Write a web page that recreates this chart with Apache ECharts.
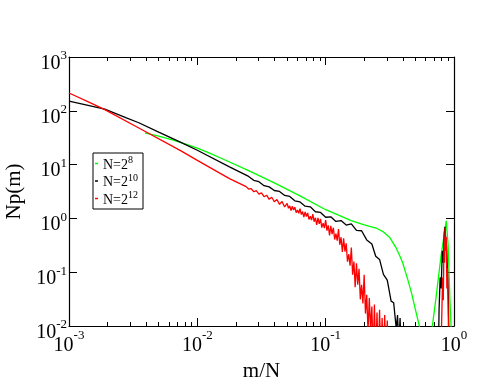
<!DOCTYPE html>
<html>
<head>
<meta charset="utf-8">
<script src="https://cdn.jsdelivr.net/npm/echarts@6/dist/echarts.min.js"></script>
<style>
  html, body { margin: 0; padding: 0; background: #fff; }
  #chart { width: 498px; height: 385px; }
</style>
</head>
<body>
<div id="chart"></div>
<script>
// axis ranges (decade exponents) and minor tick multipliers
const xTickExp = [-3, -2, -1, 0];
const yTickExp = [-2, -1, 0, 1, 2, 3];
const minorMultipliers = [2, 3, 4, 5, 6, 7, 8, 9];

const seriesNames = ['N=2^8', 'N=2^10', 'N=2^12'];

// N=2^8 (green)
const n8X = [0.0039, 0.005, 0.0063, 0.0079, 0.01, 0.0126, 0.0158, 0.0251, 0.0398, 0.0631, 0.1, 0.126, 0.158, 0.2, 0.251,
  0.282, 0.316, 0.355, 0.38, 0.398, 0.437, 0.468, 0.501, 0.537, 0.6, 0.67, 0.72, 0.79, 0.87, 0.9, 0.93, 0.96, 1.0];
const n8Y = [39, 33.9, 29.2, 24.5, 20.2, 16.2, 12.7, 7.7, 4.57, 2.63, 1.45, 1.15, 0.91, 0.76, 0.65,
  0.56, 0.44, 0.28, 0.195, 0.15, 0.072, 0.04, 0.02, 0.01, 0.0025, 0.008, 0.03, 0.19, 0.9, 0.32, 0.03, 0.005, 0.001];

// N=2^10 (black)
const n10X = [0.001, 0.0013, 0.0019, 0.0028, 0.0035, 0.005, 0.0073, 0.01, 0.0178,
  0.0251, 0.0275, 0.0302, 0.0331, 0.0363, 0.0398, 0.0437, 0.0479, 0.0525, 0.0575,
  0.0631, 0.0692, 0.0759, 0.0832, 0.0912, 0.1, 0.1096, 0.1202, 0.1318, 0.1445,
  0.1585, 0.1738, 0.1905, 0.2089, 0.2291, 0.2455, 0.263, 0.2818, 0.302, 0.3236,
  0.3388, 0.3548, 0.3631, 0.3715, 0.38, 0.389, 0.398,
  0.75, 0.765, 0.78, 0.795, 0.81, 0.825, 0.84, 0.85, 0.86, 0.875, 0.89, 0.905, 0.92];
const n10Y = [151, 132, 107, 74, 60, 40, 26.5, 18.5, 9.1,
  6.03, 5.1, 4.81, 4.06, 3.85, 3.3, 3.17, 2.67, 2.56, 2.12,
  2.02, 1.69, 1.64, 1.33, 1.29, 1.05, 1.07, 0.877, 0.91, 0.753,
  0.794, 0.597, 0.59, 0.398, 0.334, 0.198, 0.173, 0.091, 0.071, 0.029,
  0.027, 0.009, 0.016, 0.004, 0.014, 0.003, 0.001,
  0.001, 0.02, 0.08, 0.05, 0.25, 0.15, 0.55, 0.7, 0.45, 0.3, 0.1, 0.03, 0.001];

// N=2^12 (red)
const n12X = [0.001, 0.0015, 0.0019, 0.0035, 0.0074, 0.01, 0.0178,
  0.024, 0.0251, 0.0263, 0.0275, 0.0288, 0.0302, 0.0316, 0.0331, 0.0347, 0.0363,
  0.038, 0.0398, 0.0417, 0.0437, 0.0457, 0.0479,
  0.0501, 0.0513, 0.0525, 0.0537, 0.055, 0.0562, 0.0575, 0.0589, 0.0603, 0.0617,
  0.0631, 0.0646, 0.0661, 0.0676, 0.0692, 0.0708, 0.0724, 0.0741, 0.0759, 0.0776,
  0.0794, 0.0813, 0.0832, 0.0851, 0.0871, 0.0891, 0.0912, 0.0933, 0.0955, 0.0977,
  0.1, 0.1023, 0.1047, 0.1072, 0.1096, 0.1122, 0.1148, 0.1175, 0.1202, 0.123,
  0.1259, 0.1288, 0.1318, 0.1349, 0.138, 0.1413, 0.1445, 0.1479, 0.1514, 0.1549,
  0.1585, 0.1622, 0.166, 0.1698, 0.1738, 0.1778, 0.182, 0.1862, 0.1905, 0.195,
  0.1995, 0.2042, 0.2089, 0.2138, 0.2188, 0.2239, 0.2291, 0.2344, 0.2399, 0.2455,
  0.2512, 0.257, 0.263, 0.2692, 0.2754, 0.2818, 0.2884, 0.2951, 0.302, 0.31,
  0.78, 0.8, 0.815, 0.825, 0.835, 0.843, 0.852, 0.86, 0.87, 0.88, 0.89, 0.905, 0.915];
const n12Y = [214, 137, 105, 48, 18.2, 12, 5.5,
  3.9, 3.51, 3.57, 3.13, 3.27, 2.83, 2.99, 2.53, 2.7, 2.26,
  2.47, 2.04, 2.25, 1.82, 2.06, 1.63,
  1.905, 1.545, 1.71, 1.403, 1.683, 1.429, 1.618, 1.282, 1.435, 1.247,
  1.514, 1.18, 1.337, 1.057, 1.318, 1.086, 1.265, 0.959, 1.102, 0.933,
  1.202, 0.867, 1.028, 0.755, 1.019, 0.791, 0.973, 0.676, 0.817, 0.658,
  0.933, 0.592, 0.743, 0.483, 0.724, 0.508, 0.671, 0.405, 0.521, 0.385,
  0.631, 0.323, 0.447, 0.237, 0.425, 0.242, 0.344, 0.157, 0.216, 0.132,
  0.288, 0.0895, 0.158, 0.0525, 0.146, 0.0586, 0.116, 0.0313, 0.0583, 0.0263,
  0.0891, 0.017, 0.038, 0.0079, 0.033, 0.0087, 0.0229, 0.0025, 0.025, 0.0025,
  0.0178, 0.002, 0.02, 0.0025, 0.014, 0.002, 0.016, 0.002, 0.0126, 0.001,
  0.001, 0.01, 0.08, 0.03, 0.3, 0.15, 0.66, 0.25, 0.45, 0.05, 0.12, 0.01, 0.001];

const colors = ['#00ff00', '#000000', '#ff0000'];
const serif = 'Liberation Serif';

function pairs(xs, ys) {
  return xs.map(function (x, i) { return [x, ys[i]]; });
}

function powLabel(v) {
  let e = Math.round(Math.log10(v));
  return '{b|10}{s|' + e + '}';
}

let minorTicks = [];
xTickExp.slice(0, -1).forEach(function (d) {
  minorMultipliers.forEach(function (m) { minorTicks.push(d + Math.log10(m)); });
});

const xMin = Math.pow(10, xTickExp[0]);
const xMax = Math.pow(10, xTickExp[xTickExp.length - 1]);
const yMin = Math.pow(10, yTickExp[0]);
const yMax = Math.pow(10, yTickExp[yTickExp.length - 1]);

const axisLineStyle = { color: '#000', width: 1.2 };
const tickStyle = { color: '#000', width: 1 };

let myChart = echarts.init(document.getElementById('chart'));
myChart.setOption({
  animation: false,
  backgroundColor: '#fff',
  grid: {
    left: 69,
    top: 57,
    right: 44,
    bottom: 59,
    containLabel: false,
    outerBoundsMode: 'none'
  },
  legend: {
    data: seriesNames,
    orient: 'vertical',
    left: 93,
    top: 153,
    padding: [2, 5, 2, 2],
    itemGap: 0.5,
    itemWidth: 3,
    itemHeight: 1.5,
    icon: 'rect',
    borderColor: '#000',
    borderWidth: 1,
    borderRadius: 0,
    backgroundColor: '#fff',
    formatter: function (name) {
      let parts = name.split('^');
      return '{b|' + parts[0] + '}{s|' + parts[1] + '}';
    },
    textStyle: {
      color: '#000',
      fontFamily: serif,
      rich: {
        b: { fontSize: 14, lineHeight: 14, padding: [3, 0, 0, 0], fontFamily: serif, color: '#000' },
        s: { fontSize: 10, lineHeight: 10, padding: [0, 0, 6, 0], fontFamily: serif, color: '#000' }
      }
    }
  },
  xAxis: [
    {
      type: 'log',
      logBase: 10,
      min: xMin,
      max: xMax,
      position: 'bottom',
      name: 'm/N',
      nameLocation: 'middle',
      nameGap: 27,
      nameTextStyle: { fontFamily: serif, fontSize: 21, color: '#000' },
      axisLine: { onZero: false, lineStyle: axisLineStyle },
      axisTick: { inside: true, length: 8, lineStyle: tickStyle },
      splitLine: { show: false },
      axisLabel: {
        margin: 6,
        formatter: powLabel,
        rich: {
          b: { fontSize: 20, lineHeight: 20, padding: [8, 0, 0, 0], fontFamily: serif, color: '#000' },
          s: { fontSize: 13, lineHeight: 13, padding: [0, 0, 12, 0], fontFamily: serif, color: '#000' }
        }
      }
    },
    {
      type: 'log',
      logBase: 10,
      min: xMin,
      max: xMax,
      position: 'top',
      axisLine: { onZero: false, lineStyle: axisLineStyle },
      axisTick: { inside: true, length: 8, lineStyle: tickStyle },
      splitLine: { show: false },
      axisLabel: { show: false }
    },
    {
      type: 'value',
      min: xTickExp[0],
      max: xTickExp[xTickExp.length - 1],
      position: 'bottom',
      axisLine: { show: false, onZero: false },
      axisTick: { show: true, inside: true, length: 4, customValues: minorTicks, lineStyle: tickStyle },
      splitLine: { show: false },
      axisLabel: { show: false }
    },
    {
      type: 'value',
      min: xTickExp[0],
      max: xTickExp[xTickExp.length - 1],
      position: 'top',
      axisLine: { show: false, onZero: false },
      axisTick: { show: true, inside: true, length: 4, customValues: minorTicks, lineStyle: tickStyle },
      splitLine: { show: false },
      axisLabel: { show: false }
    }
  ],
  yAxis: [
    {
      type: 'log',
      logBase: 10,
      min: yMin,
      max: yMax,
      position: 'left',
      name: 'Np(m)',
      nameLocation: 'middle',
      nameGap: 43,
      nameTextStyle: { fontFamily: serif, fontSize: 21, color: '#000' },
      axisLine: { onZero: false, lineStyle: axisLineStyle },
      axisTick: { inside: true, length: 8, lineStyle: tickStyle },
      splitLine: { show: false },
      axisLabel: {
        margin: 2,
        formatter: powLabel,
        rich: {
          b: { fontSize: 20, lineHeight: 20, padding: [13, 0, 0, 0], fontFamily: serif, color: '#000' },
          s: { fontSize: 13, lineHeight: 13, padding: [0, 0, 2, 0], fontFamily: serif, color: '#000' }
        }
      }
    },
    {
      type: 'log',
      logBase: 10,
      min: yMin,
      max: yMax,
      position: 'right',
      axisLine: { onZero: false, lineStyle: axisLineStyle },
      axisTick: { inside: true, length: 8, lineStyle: tickStyle },
      splitLine: { show: false },
      axisLabel: { show: false }
    }
  ],
  series: [
    { name: seriesNames[0], type: 'line', data: pairs(n8X, n8Y), color: colors[0] },
    { name: seriesNames[1], type: 'line', data: pairs(n10X, n10Y), color: colors[1] },
    { name: seriesNames[2], type: 'line', data: pairs(n12X, n12Y), color: colors[2] }
  ].map(function (s) {
    s.xAxisIndex = 0;
    s.yAxisIndex = 0;
    s.showSymbol = false;
    s.symbol = 'none';
    s.clip = true;
    s.lineStyle = { width: 1.3, color: s.color };
    s.itemStyle = { color: s.color };
    return s;
  })
});
</script>
</body>
</html>
